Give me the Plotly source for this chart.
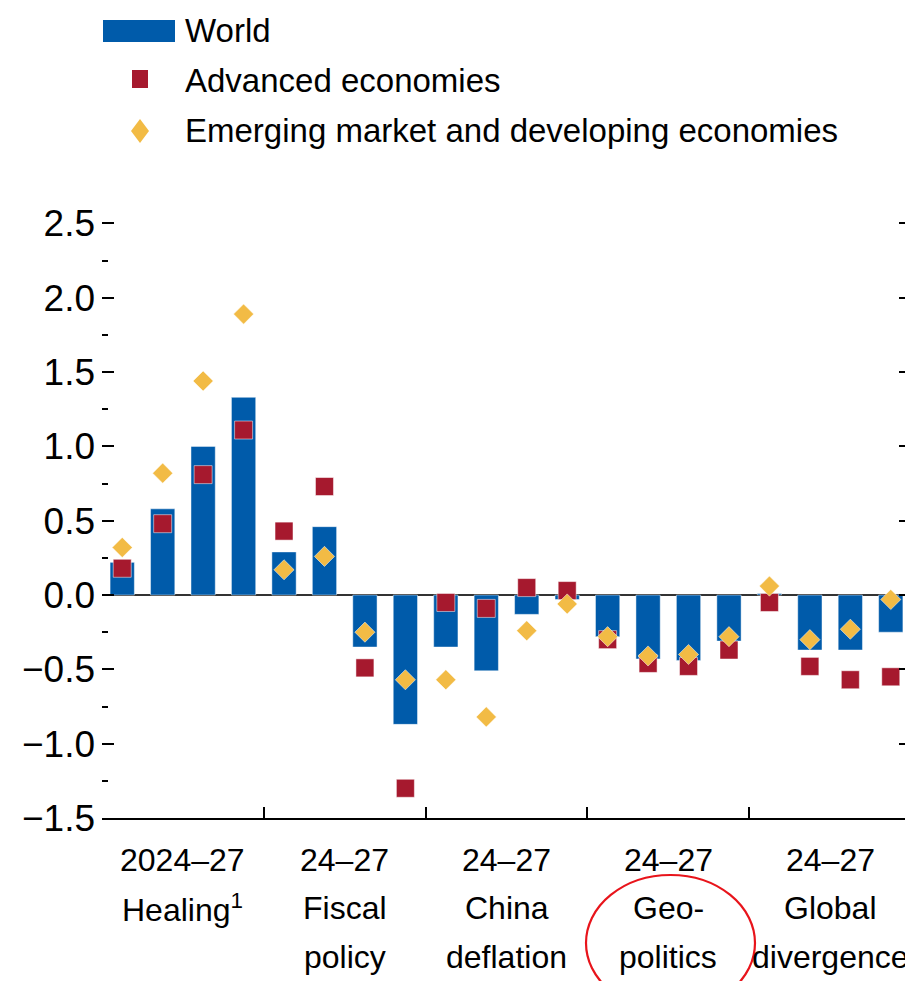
import plotly.graph_objects as go

# ---- data (percent deviation) ----
groups = ["Healing", "Fiscal policy", "China deflation", "Geopolitics", "Global divergence"]
years = ["2024", "2025", "2026", "2027"]
label_lines = [
    ["2024–27", "Healing<sup>1</sup>"],
    ["24–27", "Fiscal", "policy"],
    ["24–27", "China", "deflation"],
    ["24–27", "Geo-", "politics"],
    ["24–27", "Global", "divergence"],
]

world = [0.22, 0.58, 1.00, 1.33,
         0.29, 0.46, -0.35, -0.87,
         -0.35, -0.51, -0.13, -0.03,
         -0.28, -0.43, -0.44, -0.31,
         0.01, -0.37, -0.37, -0.25]
advanced = [0.18, 0.48, 0.81, 1.11,
            0.43, 0.73, -0.49, -1.30,
            -0.05, -0.09, 0.05, 0.03,
            -0.30, -0.46, -0.48, -0.37,
            -0.05, -0.48, -0.57, -0.55]
emerging = [0.32, 0.82, 1.44, 1.89,
            0.17, 0.26, -0.25, -0.57,
            -0.57, -0.82, -0.24, -0.06,
            -0.28, -0.41, -0.40, -0.28,
            0.06, -0.30, -0.23, -0.03]

series_names = ["World", "Advanced economies", "Emerging market and developing economies"]

BLUE = "#005BAA"
RED = "#A6192E"
YELLOW = "#F2BB45"
FONT = "Liberation Sans, Arial, Helvetica, sans-serif"

# page has an 8px body margin, so the figure is drawn 8px smaller
OFF = 8
W, H = 913 - OFF, 981 - OFF
ML, MR, MT, MB = 94, 2, 208, 163


def px_x(x):
    # screen pixel -> paper x
    return (x - OFF - ML) / (W - ML - MR)


def px_y(y):
    # screen pixel -> paper y
    return (H - MB - (y - OFF)) / (H - MT - MB)


xs = list(range(len(world)))
n_per = len(years)

fig = go.Figure()
fig.add_trace(go.Bar(x=xs, y=world, width=0.6, name=series_names[0],
                     marker=dict(color=BLUE, line=dict(color="rgba(255,255,255,0.45)", width=1)),
                     showlegend=False))
fig.add_trace(go.Scatter(x=xs, y=advanced, mode="markers", name=series_names[1],
                         marker=dict(symbol="square", size=18, color=RED,
                                     line=dict(color="rgba(255,255,255,0.5)", width=1)),
                         showlegend=False))
fig.add_trace(go.Scatter(x=xs, y=emerging, mode="markers", name=series_names[2],
                         marker=dict(symbol="diamond", size=15.5, color=YELLOW,
                                     line=dict(color="rgba(255,255,255,0.5)", width=1)),
                         showlegend=False))

# group labels under the axis
centers = [g * n_per + (n_per - 1) / 2 for g in range(len(groups))]
annotations = []
line_y = [860, 908, 957]
for c, lines in zip(centers, label_lines):
    for i, txt in enumerate(lines):
        annotations.append(dict(x=c, xref="x", y=px_y(line_y[i]), yref="paper",
                                text=txt, showarrow=False, xanchor="center", yanchor="middle",
                                font=dict(family=FONT, size=32, color="black")))

# legend drawn by hand (wide swatch for the bars)
shapes = [
    dict(type="rect", xref="paper", yref="paper",
         x0=px_x(103), x1=px_x(175), y0=px_y(42), y1=px_y(20),
         fillcolor=BLUE, line=dict(width=0)),
    dict(type="rect", xref="paper", yref="paper",
         x0=px_x(132), x1=px_x(148), y0=px_y(88), y1=px_y(70),
         fillcolor=RED, line=dict(width=0)),
    dict(type="path", xref="paper", yref="paper",
         path="M %f %f L %f %f L %f %f L %f %f Z" % (
             px_x(140), px_y(119), px_x(149), px_y(131),
             px_x(140), px_y(143), px_x(131), px_y(131)),
         fillcolor=YELLOW, line=dict(width=0)),
    # red hand-drawn circle around the geopolitics label
    dict(type="circle", xref="paper", yref="paper",
         x0=px_x(586), x1=px_x(755), y0=px_y(1011), y1=px_y(875),
         line=dict(color="#E8141B", width=2.2)),
]
for name, yy in zip(series_names, [31, 80, 130]):
    annotations.append(dict(x=px_x(183), xref="paper", y=px_y(yy), yref="paper",
                            text=name, showarrow=False, xanchor="left", yanchor="middle",
                            font=dict(family=FONT, size=33, color="black")))

boundaries = [g * n_per - 0.5 for g in range(1, len(groups))]

fig.update_layout(
    width=W, height=H,
    margin=dict(l=ML, r=MR, t=MT, b=MB),
    plot_bgcolor="white", paper_bgcolor="white",
    showlegend=False,
    annotations=annotations,
    shapes=shapes,
    xaxis=dict(range=[-0.5, len(world) - 0.5], showgrid=False, zeroline=False,
               showticklabels=False, ticks="",
               showline=True, linecolor="black", linewidth=2,
               minor=dict(tickvals=boundaries, ticks="inside", ticklen=11,
                          tickwidth=2, tickcolor="black")),
    yaxis=dict(range=[-1.5, 2.55], tickvals=[-1.5, -1.0, -0.5, 0, 0.5, 1.0, 1.5, 2.0, 2.5],
               tickformat=".1f", showgrid=False, showline=False,
               ticks="inside", ticklen=12, tickwidth=2, tickcolor="black",
               mirror="ticks", ticklabelstandoff=6,
               minor=dict(dtick=0.25, ticks="inside", ticklen=6, tickwidth=2, tickcolor="black"),
               zeroline=True, zerolinecolor="#333333", zerolinewidth=2,
               layer="above traces",
               tickfont=dict(family=FONT, size=37, color="black")),
)

fig.write_html("out.html")
